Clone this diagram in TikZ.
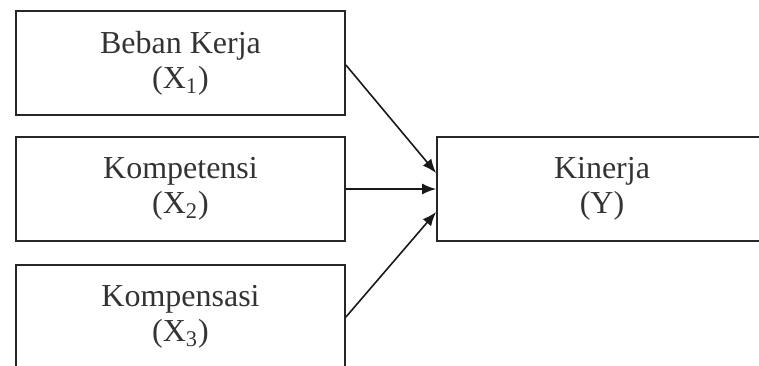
\documentclass[tikz,border=0pt]{standalone}
\usepackage{fontspec}
\setmainfont{Liberation Serif}
\usetikzlibrary{arrows.meta}
\begin{document}
\begin{tikzpicture}[x=0.5pt,y=-0.5pt,
  box/.style={draw=black!85,line width=0.9pt,inner sep=0pt,
    font=\fontsize{16}{17.5}\selectfont,text=black!80,align=center},
  arr/.style={draw=black!90,line width=0.8pt,-{Latex[length=7pt,width=5.5pt]}}]
\useasboundingbox (0,0) rectangle (759,365);
\clip (0,0) rectangle (759,365);
\node[box,minimum width=164.5pt,minimum height=52pt] (b1) at (180.5,63) {Beban Kerja\\(X\textsubscript{1})};
\node[box,minimum width=164.5pt,minimum height=52pt] (b2) at (180.5,189) {Kompetensi\\(X\textsubscript{2})};
\node[box,minimum width=164.5pt,minimum height=52pt] (b3) at (180.5,317) {Kompensasi\\(X\textsubscript{3})};
\node[box,minimum width=165pt,minimum height=52pt] (y) at (602,189) {Kinerja\\(Y)};
\draw[arr] ([yshift=-1pt]b1.east) -- ([yshift=8pt]y.west);
\draw[arr] (b2.east) -- (y.west);
\draw[arr] (b3.east) -- ([yshift=-11.5pt]y.west);
\end{tikzpicture}
\end{document}
